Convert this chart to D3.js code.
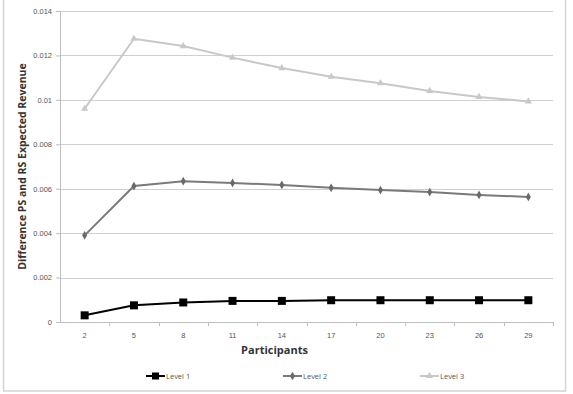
<!DOCTYPE html>
<html>
<head>
<meta charset="utf-8">
<script src="https://cdn.jsdelivr.net/npm/d3@7"></script>
<style>
  body { margin: 0; background: #fff; }
  svg { display: block; font-family: 'Open Sans', 'DejaVu Sans', sans-serif; }
</style>
</head>
<body>
<div id="chart"></div>
<script>
// categories on the x axis
const participants = ['2', '5', '8', '11', '14', '17', '20', '23', '26', '29'];
const yTicks = [0, 0.002, 0.004, 0.006, 0.008, 0.01, 0.012, 0.014];
const yTickLabels = ['0', '0.002', '0.004', '0.006', '0.008', '0.01', '0.012', '0.014'];

// series values
const level1 = [0.0003, 0.00075, 0.00088, 0.00095, 0.00095, 0.00098, 0.00098, 0.00098, 0.00098, 0.00098];
const level2 = [0.0039, 0.00612, 0.00634, 0.00626, 0.00617, 0.00604, 0.00594, 0.00585, 0.00572, 0.00563];
const level3 = [0.0096, 0.01275, 0.01242, 0.0119, 0.01143, 0.01104, 0.01075, 0.0104, 0.01013, 0.00993];
const seriesNames = ['Level 1', 'Level 2', 'Level 3'];

const W = 573, H = 394;
const margin = { top: 11, right: 20, bottom: 72, left: 60 };
const width = W - margin.left - margin.right;
const height = H - margin.top - margin.bottom;

const svg = d3.select('#chart').append('svg')
  .attr('width', W)
  .attr('height', H);

// outer chart frame
svg.append('rect')
  .attr('x', 3.5).attr('y', -2)
  .attr('width', 562).attr('height', 393)
  .attr('fill', 'none')
  .attr('stroke', '#d4d4d4')
  .attr('stroke-width', 1.5);

const g = svg.append('g')
  .attr('transform', `translate(${margin.left}, ${margin.top})`);

const x = d3.scaleBand().domain(participants).range([0, width]);
const y = d3.scaleLinear().domain([0, 0.014]).range([height, 0]);

// horizontal gridlines
g.append('g')
  .selectAll('line')
  .data(yTicks.slice(1))
  .enter()
  .append('line')
  .attr('x1', 0).attr('x2', width)
  .attr('y1', d => Math.round(y(d)) + 0.5)
  .attr('y2', d => Math.round(y(d)) + 0.5)
  .attr('stroke', '#d0d0d0')
  .attr('stroke-width', 1);

// y axis
const yAxis = g.append('g')
  .call(d3.axisLeft(y).tickValues(yTicks)
    .tickFormat((d, i) => yTickLabels[i]).tickSize(4).tickPadding(4));
yAxis.select('.domain').attr('stroke', '#bdbdbd');
yAxis.selectAll('.tick line').attr('stroke', '#bdbdbd');
yAxis.selectAll('text').attr('fill', '#555').attr('font-size', '7.5px');

// x axis, ticks between categories
const xAxis = g.append('g')
  .attr('transform', `translate(0, ${height})`)
  .call(d3.axisBottom(x).tickSize(0).tickPadding(11));
xAxis.select('.domain').attr('stroke', '#bdbdbd');
xAxis.selectAll('text').attr('fill', '#555').attr('font-size', '7.5px');
xAxis.selectAll('.sep')
  .data(participants.slice(1).concat(['end']))
  .enter()
  .append('line')
  .attr('class', 'sep')
  .attr('x1', (d, i) => Math.round(x.step() * (i + 1)) + 0.5)
  .attr('x2', (d, i) => Math.round(x.step() * (i + 1)) + 0.5)
  .attr('y1', 0).attr('y2', 4)
  .attr('stroke', '#bdbdbd');

const cx = d => x(d) + x.bandwidth() / 2;

const line = d3.line()
  .x((d, i) => cx(participants[i]))
  .y(d => y(d));

// Level 3
g.append('path').datum(level3)
  .attr('d', line).attr('fill', 'none')
  .attr('stroke', '#c8c8c8').attr('stroke-width', 2);
const tri = d3.symbol().type(d3.symbolTriangle).size(22);
g.selectAll('.m3').data(level3).enter().append('path')
  .attr('class', 'm3')
  .attr('d', tri)
  .attr('transform', (d, i) => `translate(${cx(participants[i])}, ${y(d)})`)
  .attr('fill', '#c8c8c8');

// Level 2
g.append('path').datum(level2)
  .attr('d', line).attr('fill', 'none')
  .attr('stroke', '#7a7a7a').attr('stroke-width', 2);
const dia = d3.symbol().type(d3.symbolDiamond).size(22);
g.selectAll('.m2').data(level2).enter().append('path')
  .attr('class', 'm2')
  .attr('d', dia)
  .attr('transform', (d, i) => `translate(${cx(participants[i])}, ${y(d)})`)
  .attr('fill', '#6a6a6a');

// Level 1
g.append('path').datum(level1)
  .attr('d', line).attr('fill', 'none')
  .attr('stroke', '#000').attr('stroke-width', 2);
g.selectAll('.m1').data(level1).enter().append('rect')
  .attr('class', 'm1')
  .attr('x', (d, i) => cx(participants[i]) - 4)
  .attr('y', d => y(d) - 4)
  .attr('width', 8).attr('height', 8)
  .attr('fill', '#000');

// axis titles
svg.append('text')
  .attr('x', margin.left + width / 2 - 32)
  .attr('y', 354)
  .attr('text-anchor', 'middle')
  .attr('font-weight', 'bold')
  .attr('font-size', '11px')
  .attr('fill', '#333')
  .text('Participants');

svg.append('text')
  .attr('transform', `translate(26, ${margin.top + height / 2}) rotate(-90)`)
  .attr('text-anchor', 'middle')
  .attr('font-weight', 'bold')
  .attr('font-size', '10.5px')
  .attr('fill', '#333')
  .text('Difference PS and RS Expected Revenue');

// legend
const legendX = [146, 283, 420];
const legendColors = ['#000', '#7a7a7a', '#c8c8c8'];
const legend = svg.selectAll('.legend')
  .data(seriesNames)
  .enter()
  .append('g')
  .attr('class', 'legend')
  .attr('transform', (d, i) => `translate(${legendX[i]}, 376)`);
legend.append('line')
  .attr('x1', 0).attr('x2', 19)
  .attr('stroke', (d, i) => legendColors[i])
  .attr('stroke-width', 2);
legend.each(function (d, i) {
  const el = d3.select(this);
  if (i === 0) {
    el.append('rect').attr('x', 6).attr('y', -3.5).attr('width', 7).attr('height', 7).attr('fill', '#000');
  } else if (i === 1) {
    el.append('path').attr('d', dia).attr('transform', 'translate(9.5,0)').attr('fill', '#6a6a6a');
  } else {
    el.append('path').attr('d', tri).attr('transform', 'translate(9.5,0)').attr('fill', '#c8c8c8');
  }
});
legend.append('text')
  .attr('x', 20).attr('y', 3)
  .attr('font-size', '7.5px')
  .attr('fill', '#555')
  .text(d => d);
</script>
</body>
</html>
